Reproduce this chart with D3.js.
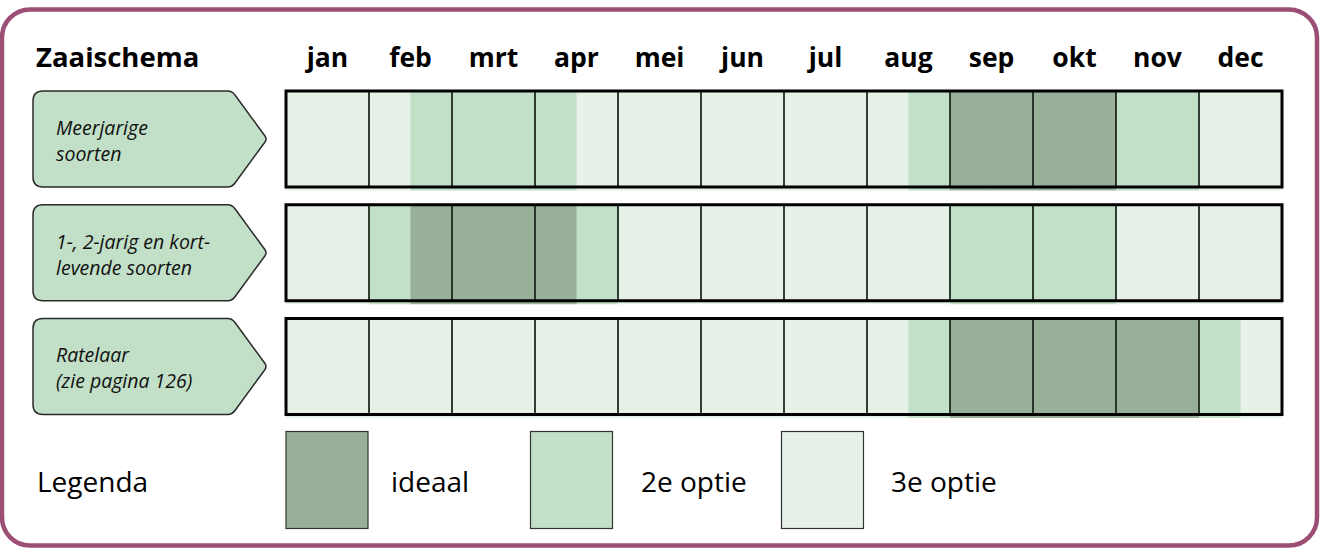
<!DOCTYPE html>
<html>
<head>
<meta charset="utf-8">
<script src="https://cdn.jsdelivr.net/npm/d3@7"></script>
<style>
  html, body { margin: 0; padding: 0; background: #ffffff; }
  svg { display: block; }
</style>
</head>
<body>
<svg id="chart" width="1320" height="548"></svg>
<script>
// ---- data ----
const title = "Zaaischema";
const months = ["jan", "feb", "mrt", "apr", "mei", "jun", "jul", "aug", "sep", "okt", "nov", "dec"];
const rowKeys = ["meerjarig", "kortlevend", "ratelaar"];
const rowLabels = [
  ["Meerjarige", "soorten"],
  ["1-, 2-jarig en kort-", "levende soorten"],
  ["Ratelaar", "(zie pagina 126)"]
];
// level per half month: 1 = ideaal, 2 = 2e optie, 3 = 3e optie
const meerjarig  = [3,3, 3,2, 2,2, 2,3, 3,3, 3,3, 3,3, 3,2, 1,1, 1,1, 2,2, 3,3];
const kortlevend = [3,3, 2,1, 1,1, 1,2, 3,3, 3,3, 3,3, 3,3, 2,2, 2,2, 3,3, 3,3];
const ratelaar   = [3,3, 3,3, 3,3, 3,3, 3,3, 3,3, 3,3, 3,2, 1,1, 1,1, 1,1, 2,3];
const legendTitle = "Legenda";
const levels = [1, 2, 3];
const levelLabels = ["ideaal", "2e optie", "3e optie"];

// ---- styles ----
const levelColor = d3.scaleOrdinal().domain(levels).range(["#98af9a", "#c2dfc7", "#e6f1e8"]);
const frameColor = "#9c4f74";
const fontFamily = "'Open Sans', 'Noto Sans', sans-serif";

const svg = d3.select("#chart");

// outer frame
svg.append("rect")
  .attr("x", 2).attr("y", 9.5)
  .attr("width", 1315).attr("height", 536)
  .attr("rx", 28).attr("ry", 28)
  .attr("fill", "#ffffff")
  .attr("stroke", frameColor)
  .attr("stroke-width", 4.5);

// ---- scales ----
const gridLeft = 286, gridRight = 1282;
const x = d3.scaleBand().domain(months).range([gridLeft, gridRight]);
const halves = d3.range(24);
const xh = d3.scaleBand().domain(halves).range([gridLeft, gridRight]);
const y = d3.scaleBand().domain(rowKeys).range([91, 414.5]).paddingInner(0.156);

const rowsData = [meerjarig, kortlevend, ratelaar];

// title and month labels
svg.append("text")
  .attr("x", 36).attr("y", 67)
  .attr("font-family", fontFamily).attr("font-weight", 700)
  .attr("font-size", 27.5).attr("fill", "#000")
  .text(title);

const monthAxis = d3.axisTop(x).tickSize(0).tickPadding(0);
const axG = svg.append("g").attr("transform", "translate(0,67)").call(monthAxis);
axG.select(".domain").remove();
axG.selectAll("text")
  .attr("font-family", fontFamily).attr("font-weight", 700)
  .attr("font-size", 26.5).attr("fill", "#000")
  .attr("dy", 0);

// rows
rowKeys.forEach((key, ri) => {
  const top = y(key), h = y.bandwidth();
  const g = svg.append("g");
  // label pentagon
  const lx0 = 33, lx1 = 232, tip = 266, r = 10;
  const p = d3.path();
  p.moveTo(lx0 + r, top);
  p.lineTo(lx1 - 4, top);
  p.quadraticCurveTo(lx1, top, lx1 + 3, top + 4);
  p.lineTo(tip - 1, top + h / 2 - 3);
  p.quadraticCurveTo(tip + 1, top + h / 2, tip - 1, top + h / 2 + 3);
  p.lineTo(lx1 + 3, top + h - 4);
  p.quadraticCurveTo(lx1, top + h, lx1 - 4, top + h);
  p.lineTo(lx0 + r, top + h);
  p.quadraticCurveTo(lx0, top + h, lx0, top + h - r);
  p.lineTo(lx0, top + r);
  p.quadraticCurveTo(lx0, top, lx0 + r, top);
  p.closePath();
  g.append("path").attr("d", p.toString())
    .attr("fill", levelColor(2)).attr("stroke", "#2a2a2a").attr("stroke-width", 1.5);
  const t = g.append("text")
    .attr("font-family", fontFamily).attr("font-style", "italic")
    .attr("font-size", 19.5).attr("fill", "#111");
  rowLabels[ri].forEach((line, li) => {
    t.append("tspan").attr("x", 56).attr("y", top + 44 + li * 26).text(line);
  });

  // half-month cells
  g.selectAll("rect.cell").data(rowsData[ri]).join("rect")
    .attr("class", "cell")
    .attr("x", (d, i) => xh(i))
    .attr("y", top + 1)
    .attr("width", xh.bandwidth() + 0.5)
    .attr("height", h + 2.5)
    .attr("fill", d => levelColor(d));

  // month dividers
  g.selectAll("line.div").data(months.slice(1)).join("line")
    .attr("class", "div")
    .attr("x1", d => x(d)).attr("x2", d => x(d))
    .attr("y1", top).attr("y2", top + h)
    .attr("stroke", "#1e2a20").attr("stroke-width", 1.8);

  // outer box
  g.append("rect")
    .attr("x", gridLeft).attr("y", top)
    .attr("width", gridRight - gridLeft).attr("height", h)
    .attr("fill", "none").attr("stroke", "#000").attr("stroke-width", 3);
});

// legend
svg.append("text")
  .attr("x", 37).attr("y", 492)
  .attr("font-family", fontFamily).attr("font-size", 28).attr("fill", "#000")
  .text(legendTitle);

const lx = d3.scaleOrdinal().domain(levels).range([286, 530.5, 781.5]);
const ltx = d3.scaleOrdinal().domain(levels).range([391, 641, 891]);
const lg = svg.selectAll("g.leg").data(levels).join("g").attr("class", "leg");
lg.append("rect")
  .attr("x", d => lx(d)).attr("y", 431.5)
  .attr("width", 82).attr("height", 97)
  .attr("fill", d => levelColor(d))
  .attr("stroke", "#333").attr("stroke-width", 1.2);
lg.append("text")
  .attr("x", d => ltx(d)).attr("y", 492)
  .attr("font-family", fontFamily).attr("font-size", 28).attr("fill", "#000")
  .text((d, i) => levelLabels[i]);
</script>
</body>
</html>
